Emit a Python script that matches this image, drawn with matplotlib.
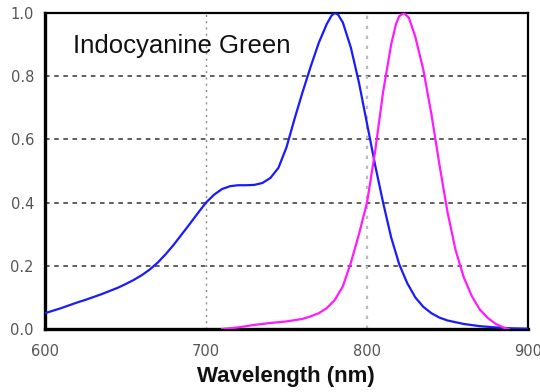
import matplotlib
matplotlib.use("Agg")
import matplotlib.pyplot as plt

# Absorption spectrum (blue)
abs_wl = [600, 605, 610, 615, 620, 625, 630, 635, 640, 645, 650, 655, 660, 665,
          670, 675, 680, 685, 690, 695, 700, 705, 710, 715, 720, 725, 730, 735,
          740, 745, 750, 755, 760, 765, 770, 775, 778, 780, 782, 785, 790, 795,
          800, 805, 810, 815, 820, 825, 830, 835, 840, 845, 850, 860, 870, 880,
          890, 900]
abs_val = [0.05, 0.058, 0.066, 0.075, 0.084, 0.092, 0.101, 0.11, 0.12, 0.13, 0.142,
           0.155, 0.17, 0.188, 0.21, 0.237, 0.267, 0.30, 0.333, 0.367, 0.40, 0.425,
           0.443, 0.452, 0.455, 0.455, 0.456, 0.462, 0.478, 0.51, 0.575, 0.665,
           0.75, 0.83, 0.905, 0.965, 0.992, 1.0, 0.995, 0.97, 0.89, 0.78, 0.65,
           0.52, 0.40, 0.29, 0.205, 0.145, 0.10, 0.07, 0.05, 0.036, 0.027, 0.016,
           0.009, 0.005, 0.002, 0.001]

# Emission spectrum (magenta)
em_wl = [710, 720, 730, 740, 750, 760, 765, 770, 775, 780, 785, 790, 795, 800,
         805, 810, 815, 818, 820, 823, 826, 830, 835, 840, 845, 850, 855, 860,
         865, 870, 875, 880, 885, 888]
em_val = [0.0, 0.005, 0.013, 0.019, 0.024, 0.032, 0.04, 0.05, 0.066, 0.092, 0.135,
          0.21, 0.30, 0.40, 0.56, 0.75, 0.90, 0.965, 0.99, 1.0, 0.985, 0.925, 0.82,
          0.68, 0.52, 0.37, 0.25, 0.165, 0.105, 0.062, 0.035, 0.016, 0.004, 0.0]

x_ticks = [600, 700, 800, 900]
y_ticks = [0.0, 0.2, 0.4, 0.6, 0.8, 1.0]

fig = plt.figure(figsize=(5.4, 3.92), dpi=100)
ax = fig.add_axes([45 / 540, 1 - 329 / 392, 483 / 540, 316 / 392])

ax.set_xlim(600, 900)
ax.set_ylim(0, 1.0)

# grid: dashed horizontal, dotted vertical
for y in [0.2, 0.4, 0.6, 0.8]:
    ax.axhline(y, color="#333333", lw=1.1, dashes=(3, 3), zorder=1)
ax.axvline(700, color="#888888", lw=1.0, dashes=(1.5, 3), zorder=1)
ax.axvline(800, color="#bbbbbb", lw=1.6, dashes=(1.5, 3), zorder=1)

ax.plot(abs_wl, abs_val, color="#1a1aff", lw=1.6, zorder=3,
        solid_joinstyle="round")
ax.plot(em_wl, em_val, color="#ff1aff", lw=1.6, zorder=3,
        solid_joinstyle="round")

ax.set_xticks(x_ticks)
ax.set_xticklabels([str(v) for v in x_ticks])
ax.set_yticks(y_ticks)
ax.set_yticklabels([f"{v:.1f}" for v in y_ticks])
ax.tick_params(length=0, labelsize=10.5, labelcolor="#555555")
ax.tick_params(axis="x", pad=11)
ax.tick_params(axis="y", pad=8)
for lab in ax.get_xticklabels() + ax.get_yticklabels():
    lab.set_family("DejaVu Sans")

for side in ["left", "bottom"]:
    ax.spines[side].set_linewidth(2.4)
for side in ["top", "right"]:
    ax.spines[side].set_linewidth(1.6)

ax.text(0.058, 0.873, "Indocyanine Green", transform=ax.transAxes,
        family="Liberation Sans", fontsize=18.5, va="baseline", ha="left",
        color="#111111")

fig.text((45 + 241) / 540, 1 - 382 / 392, "Wavelength (nm)",
         family="Liberation Sans", fontweight="bold", fontsize=16,
         ha="center", va="baseline", color="#111111")

fig.savefig("out.png", dpi=100)
